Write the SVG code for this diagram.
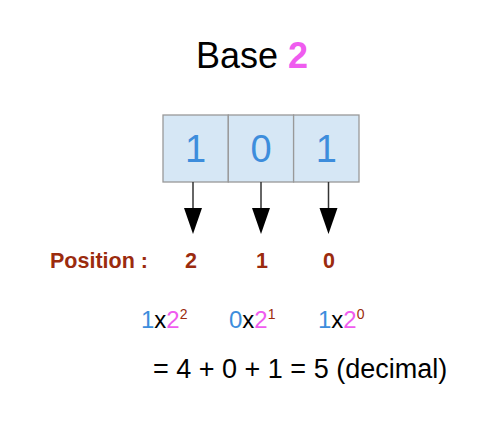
<svg xmlns="http://www.w3.org/2000/svg" width="504" height="434" viewBox="0 0 504 434">
<defs>
<style>
text{font-family:"Liberation Sans",Arial,sans-serif}
.cell{fill:#d6e7f5;stroke:#999999;stroke-width:1.3}
.digit{font-size:38px;fill:#3d8ddc;text-anchor:middle}
.pos{font-size:21.5px;font-weight:bold;fill:#9b2b0e}
.blue{fill:#3d8ddc}
.mag{fill:#ef5cef}
.red{fill:#9b2b0e}
.conn{stroke:#333333;stroke-width:1.5;fill:none}
.head{fill:#000000}
.term{font-size:24px;fill:#000}
</style>
</defs>
<rect width="504" height="434" fill="#ffffff"/>
<g id="title">
<text x="196" y="68" font-size="36" fill="#000">Base <tspan class="mag" font-weight="bold">2</tspan></text>
</g>
<g id="cell0">
<rect class="cell" x="163" y="115" width="65.3" height="67"/>
<text class="digit" x="195.5" y="162">1</text>
</g>
<g id="cell1">
<rect class="cell" x="228.3" y="115" width="65.3" height="67"/>
<text class="digit" x="261" y="162">0</text>
</g>
<g id="cell2">
<rect class="cell" x="293.6" y="115" width="65.4" height="67"/>
<text class="digit" x="326.3" y="162">1</text>
</g>
<g id="connectors">
<line class="conn" x1="193" y1="182" x2="193" y2="208"/>
<path class="head" d="M184,208 L202,208 L193,234 Z"/>
<line class="conn" x1="261" y1="182" x2="261" y2="208"/>
<path class="head" d="M252,208 L270,208 L261,234 Z"/>
<line class="conn" x1="328.5" y1="182" x2="328.5" y2="208"/>
<path class="head" d="M319.5,208 L337.5,208 L328.5,234 Z"/>
</g>
<g id="positions">
<text class="pos" x="50" y="268">Position :</text>
<text class="pos" x="191" y="268" text-anchor="middle">2</text>
<text class="pos" x="262" y="268" text-anchor="middle">1</text>
<text class="pos" x="329" y="268" text-anchor="middle">0</text>
</g>
<g id="terms">
<text class="term" x="141" y="328"><tspan class="blue">1</tspan>x<tspan class="mag">2</tspan><tspan class="red" font-size="14" dy="-9">2</tspan></text>
<text class="term" x="229" y="328"><tspan class="blue">0</tspan>x<tspan class="mag">2</tspan><tspan class="red" font-size="14" dy="-9">1</tspan></text>
<text class="term" x="318" y="328"><tspan class="blue">1</tspan>x<tspan class="mag">2</tspan><tspan class="red" font-size="14" dy="-9">0</tspan></text>
</g>
<g id="result">
<text x="153" y="378" font-size="27" fill="#000">= 4 + 0 + 1 = 5 (decimal)</text>
</g>
</svg>
